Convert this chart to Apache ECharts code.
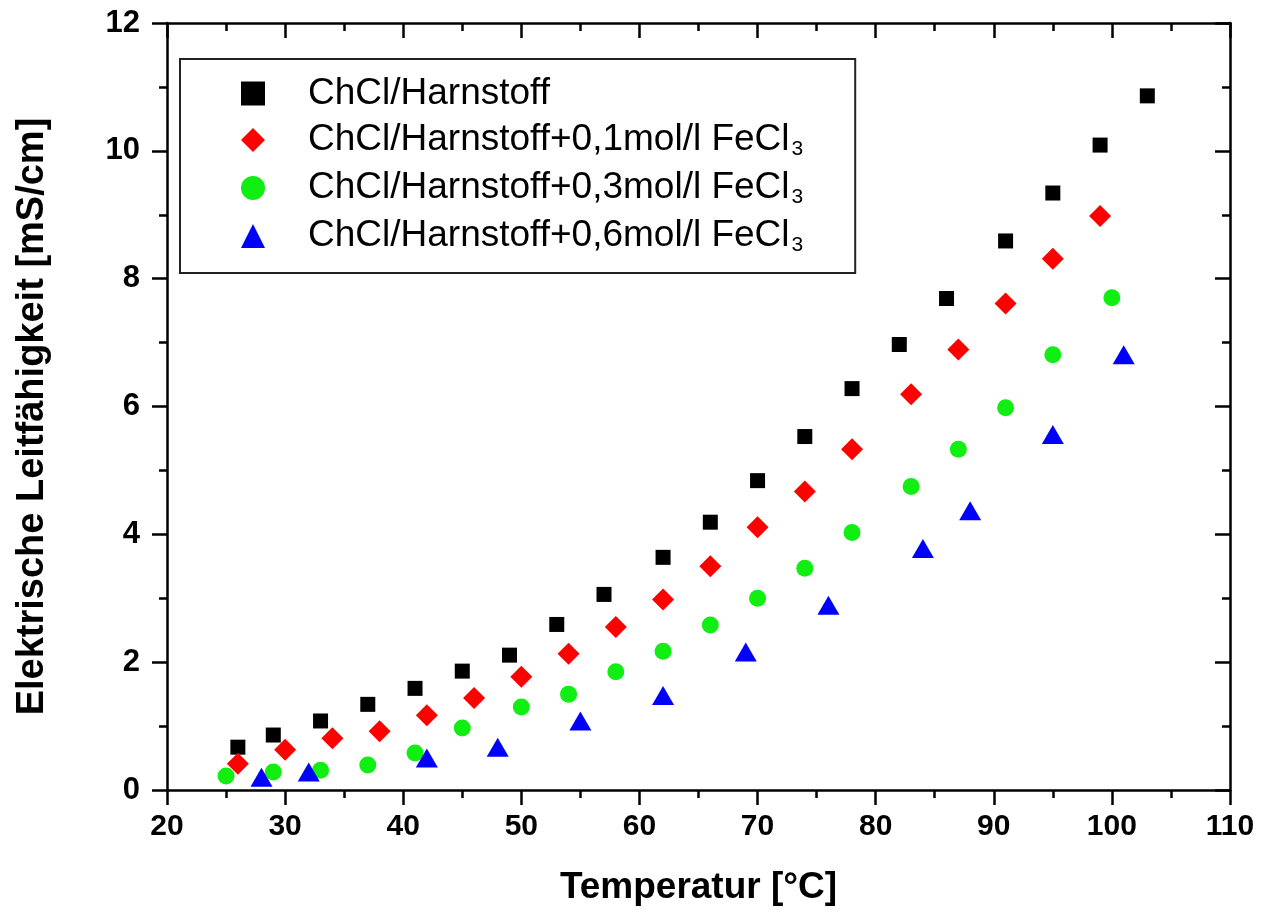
<!DOCTYPE html>
<html><head><meta charset="utf-8">
<script src="https://cdn.jsdelivr.net/npm/echarts@6/dist/echarts.min.js"></script>
<style>html,body{margin:0;padding:0;background:#fff}#c{width:1264px;height:913px}</style>
</head><body><div id="c"></div>
<script>
// ---- data ----
const seriesNames = [
  'ChCl/Harnstoff',
  'ChCl/Harnstoff+0,1mol/l FeCl3',
  'ChCl/Harnstoff+0,3mol/l FeCl3',
  'ChCl/Harnstoff+0,6mol/l FeCl3'
];
const tempPure = [26,29,33,37,41,45,49,53,57,62,66,70,74,78,82,86,91,95,99,103];
const condPure = [0.67,0.86,1.08,1.34,1.59,1.86,2.11,2.59,3.06,3.64,4.19,4.84,5.53,6.28,6.97,7.69,8.59,9.34,10.09,10.86];
const tempFe01 = [26,30,34,38,42,46,50,54,58,62,66,70,74,78,83,87,91,95,99];
const condFe01 = [0.41,0.63,0.81,0.92,1.17,1.44,1.77,2.13,2.55,2.98,3.50,4.11,4.67,5.33,6.19,6.89,7.61,8.31,8.98];
const tempFe03 = [25,29,33,37,41,45,50,54,58,62,66,70,74,78,83,87,91,95,100];
const condFe03 = [0.22,0.28,0.31,0.39,0.58,0.97,1.30,1.50,1.85,2.17,2.58,3.00,3.47,4.03,4.75,5.33,5.98,6.81,7.70];
const tempFe06 = [28,32,42,48,55,62,69,76,84,88,95,101];
const condFe06 = [0.20,0.28,0.50,0.67,1.08,1.48,2.16,2.89,3.78,4.37,5.56,6.81];
const xTickMin = 20, xTickMax = 110, xTickStep = 10;
const yTickMin = 0, yTickMax = 12, yTickStep = 2;

const zip = (a, b) => a.map((t, i) => [t, b[i]]);
const FONT = '"Liberation Sans", Arial, sans-serif';
const black = '#000';

const baseAxisLine = { show: true, onZero: false, lineStyle: { color: black, width: 2.5 } };

const chart = echarts.init(document.getElementById('c'), null, { renderer: 'canvas' });
const option = {
  animation: false,
  backgroundColor: '#fff',
  grid: { left: 167, right: 34, top: 23, bottom: 123, containLabel: false },
  legend: {
    orient: 'vertical',
    left: 180, top: 59,
    padding: [16, 52, 17, 61],
    itemGap: 9.5,
    itemWidth: 24, itemHeight: 24,
    borderColor: '#222', borderWidth: 2,
    backgroundColor: '#fff',
    data: seriesNames,
    formatter: function (name) {
      if (name.endsWith('FeCl3')) {
        return '{t|' + name.slice(0, -1) + '}{s|3}';
      }
      return '{t|' + name + '}';
    },
    textStyle: {
      color: black, fontFamily: FONT,
      rich: {
        t: { fontSize: 37, fontFamily: FONT, color: black, lineHeight: 40, verticalAlign: 'middle', padding: [0, 0, 0, 38] },
        s: { fontSize: 21, fontFamily: FONT, color: black, lineHeight: 20, verticalAlign: 'bottom', padding: [0, 0, 0, 2] }
      }
    }
  },
  xAxis: [{
    type: 'value', min: xTickMin, max: xTickMax, interval: xTickStep,
    position: 'bottom',
    name: 'Temperatur [°C]', nameLocation: 'middle', nameGap: 79,
    nameTextStyle: { fontFamily: FONT, fontSize: 37, fontWeight: 'bold', color: black },
    axisLine: baseAxisLine,
    axisTick: { show: true, inside: false, length: 15, lineStyle: { color: black, width: 2.5 } },
    minorTick: { show: true, splitNumber: 2, length: 8, lineStyle: { color: black, width: 2.5 } },
    axisLabel: { margin: 22, fontFamily: FONT, fontSize: 30, fontWeight: 'bold', color: black },
    splitLine: { show: false }
  }, {
    type: 'value', min: xTickMin, max: xTickMax, interval: xTickStep,
    position: 'top',
    axisLine: baseAxisLine,
    axisTick: { show: true, inside: true, length: 15, lineStyle: { color: black, width: 2.5 } },
    minorTick: { show: true, splitNumber: 2, length: 8, lineStyle: { color: black, width: 2.5 } },
    axisLabel: { show: false },
    splitLine: { show: false }
  }],
  yAxis: [{
    type: 'value', min: yTickMin, max: yTickMax, interval: yTickStep,
    position: 'left',
    name: 'Elektrische Leitfähigkeit [mS/cm]', nameLocation: 'middle', nameGap: 115,
    nameTextStyle: { fontFamily: FONT, fontSize: 38, fontWeight: 'bold', color: black, padding: [0, 20, 0, 0] },
    axisLine: baseAxisLine,
    axisTick: { show: true, inside: false, length: 15, lineStyle: { color: black, width: 2.5 } },
    minorTick: { show: true, splitNumber: 2, length: 8, lineStyle: { color: black, width: 2.5 } },
    axisLabel: { margin: 27, fontFamily: FONT, fontSize: 31, fontWeight: 'bold', color: black },
    splitLine: { show: false }
  }, {
    type: 'value', min: yTickMin, max: yTickMax, interval: yTickStep,
    position: 'right',
    axisLine: baseAxisLine,
    axisTick: { show: true, inside: true, length: 15, lineStyle: { color: black, width: 2.5 } },
    minorTick: { show: true, splitNumber: 2, length: 8, lineStyle: { color: black, width: 2.5 } },
    axisLabel: { show: false },
    splitLine: { show: false }
  }],
  series: [
    { name: seriesNames[0], type: 'scatter', symbol: 'rect', symbolSize: 15,
      itemStyle: { color: '#000000', opacity: 1 }, data: zip(tempPure, condPure) },
    { name: seriesNames[1], type: 'scatter', symbol: 'diamond', symbolSize: 22,
      itemStyle: { color: '#ff0000', opacity: 1 }, data: zip(tempFe01, condFe01) },
    { name: seriesNames[2], type: 'scatter', symbol: 'circle', symbolSize: 17,
      itemStyle: { color: '#11ee11', opacity: 1 }, data: zip(tempFe03, condFe03) },
    { name: seriesNames[3], type: 'scatter', symbol: 'triangle', symbolSize: [22, 19],
      itemStyle: { color: '#0000ff', opacity: 1 }, data: zip(tempFe06, condFe06) }
  ]
};
chart.setOption(option);
</script>
</body></html>
